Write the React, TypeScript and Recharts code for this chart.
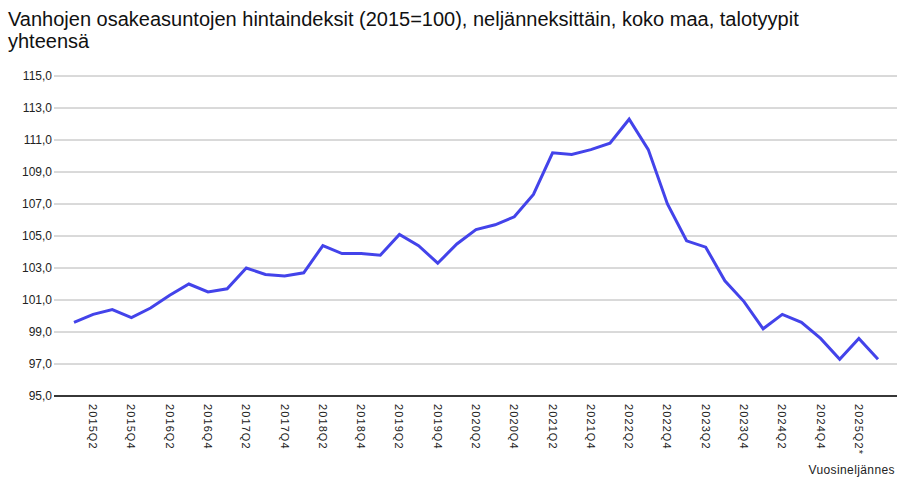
import React from 'react';
import { LineChart, Line, XAxis, YAxis, CartesianGrid } from 'recharts';

const quarters = [
  '2015Q1','2015Q2','2015Q3','2015Q4',
  '2016Q1','2016Q2','2016Q3','2016Q4',
  '2017Q1','2017Q2','2017Q3','2017Q4',
  '2018Q1','2018Q2','2018Q3','2018Q4',
  '2019Q1','2019Q2','2019Q3','2019Q4',
  '2020Q1','2020Q2','2020Q3','2020Q4',
  '2021Q1','2021Q2','2021Q3','2021Q4',
  '2022Q1','2022Q2','2022Q3','2022Q4',
  '2023Q1','2023Q2','2023Q3','2023Q4',
  '2024Q1','2024Q2','2024Q3','2024Q4',
  '2025Q1','2025Q2*','2025Q3*',
];

const indexValues = [
  99.6, 100.1, 100.4, 99.9,
  100.5, 101.3, 102.0, 101.5,
  101.7, 103.0, 102.6, 102.5,
  102.7, 104.4, 103.9, 103.9,
  103.8, 105.1, 104.4, 103.3,
  104.5, 105.4, 105.7, 106.2,
  107.6, 110.2, 110.1, 110.4,
  110.8, 112.3, 110.4, 107.0,
  104.7, 104.3, 102.2, 100.9,
  99.2, 100.1, 99.6, 98.6,
  97.3, 98.6, 97.3,
];

const xTickLabels = [
  '2015Q2','2015Q4','2016Q2','2016Q4','2017Q2','2017Q4','2018Q2','2018Q4',
  '2019Q2','2019Q4','2020Q2','2020Q4','2021Q2','2021Q4','2022Q2','2022Q4',
  '2023Q2','2023Q4','2024Q2','2024Q4','2025Q2*',
];

const yTicks = [95, 97, 99, 101, 103, 105, 107, 109, 111, 113, 115];

const titleText = 'Vanhojen osakeasuntojen hintaindeksit (2015=100), neljänneksittäin, koko maa, talotyypit yhteensä';
const xAxisTitle = 'Vuosineljännes';

const data = quarters.map((q, i) => ({ q, v: indexValues[i] }));

const FONT = '"Liberation Sans", Arial, sans-serif';

const XTick = (props: any) => {
  const { x, y, payload } = props;
  if (!xTickLabels.includes(payload.value)) return <g />;
  return (
    <text
      transform={`translate(${x},${y}) rotate(90)`}
      textAnchor="start"
      dominantBaseline="central"
      fontSize={11}
      fontFamily={FONT}
      letterSpacing={1.1}
      fill="#222"
    >
      {payload.value}
    </text>
  );
};

export default function App() {
  return (
    <div style={{ position: 'absolute', left: 0, top: 0, width: 917, height: 487, background: '#fff', fontFamily: FONT }}>
      <div
        style={{
          position: 'absolute',
          left: 8,
          top: 8,
          width: 840,
          fontSize: 20,
          lineHeight: '22px',
          color: '#111',
        }}
      >
        {titleText}
      </div>
      <LineChart
        width={917}
        height={487}
        data={data}
        margin={{ top: 76, right: 20, bottom: 0, left: 0 }}
      >
        <CartesianGrid horizontal vertical={false} stroke="#b4b4b4" strokeWidth={1} />
        <XAxis
          dataKey="q"
          type="category"
          interval={0}
          height={91}
          padding={{ left: 20, right: 19 }}
          tickLine={false}
          tickSize={0}
          tickMargin={8}
          axisLine={{ stroke: '#000', strokeWidth: 1.5 }}
          tick={<XTick />}
        />
        <YAxis
          type="number"
          domain={[95, 115]}
          ticks={yTicks}
          interval={0}
          width={54}
          axisLine={false}
          tickLine={false}
          tickSize={0}
          tickMargin={2}
          tick={{ fontSize: 12, fill: '#222', fontFamily: FONT }}
          tickFormatter={(v: number) => v.toFixed(1).replace('.', ',')}
        />
        <Line
          type="linear"
          dataKey="v"
          stroke="#4343ea"
          strokeWidth={3}
          dot={false}
          isAnimationActive={false}
        />
      </LineChart>
      <div
        style={{
          position: 'absolute',
          right: 22,
          top: 463,
          fontSize: 12,
          letterSpacing: 0.4,
          color: '#222',
        }}
      >
        {xAxisTitle}
      </div>
    </div>
  );
}
